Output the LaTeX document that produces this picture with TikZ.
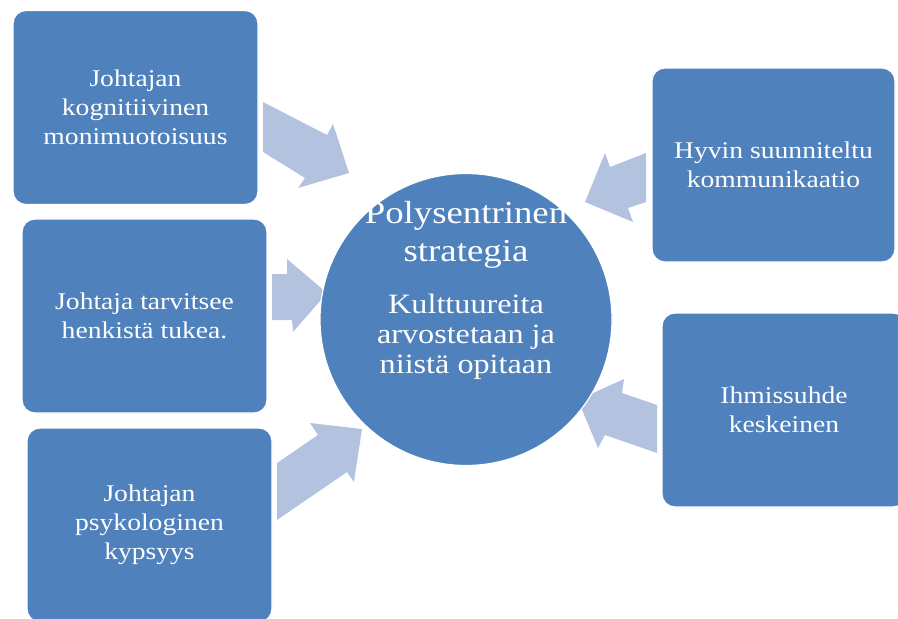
\documentclass[tikz,border=0pt]{standalone}
\usepackage{fontspec}
\setmainfont{Liberation Serif}[FakeStretch=1.15]
\definecolor{boxblue}{RGB}{79,129,189}
\definecolor{arrowblue}{RGB}{179,194,222}
\tikzset{
  factor/.style={rectangle,rounded corners=13pt,fill=boxblue,draw=white,line width=1.2pt,
    minimum width=245pt,minimum height=194pt,text=white,align=center,
    font=\fontsize{24}{29}\selectfont},
  flowarrow/.style={fill=arrowblue},
}
\begin{document}
\begin{tikzpicture}[x=1pt,y=-1pt]
        \useasboundingbox (0,0) rectangle (898,619);
        \clip (0,0) rectangle (898,619);
        % arrows
        \fill[flowarrow] (263,102)--(327,135)--(333,124)--(349,173)--(298,188)--(305,178)--(263,152)--cycle;
        \fill[flowarrow] (272,274)--(287,274)--(287,259)--(327,293)--(293,332)--(292,320)--(272,320)--cycle;
        \fill[flowarrow] (277,520)--(277,463)--(318,435)--(310,423)--(362,429)--(354,482)--(347,472)--cycle;
        \fill[flowarrow] (646,153)--(610,167)--(605,153)--(585,202)--(633,222)--(628,208)--(646,202)--cycle;
        \fill[flowarrow] (657,405)--(622,393)--(624,379)--(578,400)--(598,448)--(605,435)--(657,453)--cycle;
        % boxes
        \node[factor] (kognitio) at (135.5,107.5) {Johtajan\\kognitiivinen\\monimuotoisuus};
        \node[factor] (tuki) at (144.5,316) {Johtaja tarvitsee\\henkistä tukea.};
        \node[factor] (kypsyys) at (149.5,525) {Johtajan\\psykologinen\\kypsyys};
        \node[factor,minimum width=243pt] (viestinta) at (773.5,165) {Hyvin suunniteltu\\kommunikaatio};
        \node[factor,minimum width=244pt] (suhde) at (784,410) {Ihmissuhde\\keskeinen};
        % centre
        \node[circle,fill=boxblue,draw=white,line width=1.2pt,minimum size=292pt] (strategia) at (466,319.5) {};
        \node[text=white,align=center,font=\fontsize{32}{38}\selectfont] (otsikko) at (466,235) {Polysentrinen\\strategia};
        \node[text=white,align=center,font=\fontsize{28}{30}\selectfont] (kuvaus) at (466,337) {Kulttuureita\\arvostetaan ja\\niistä opitaan};
\end{tikzpicture}
\end{document}
